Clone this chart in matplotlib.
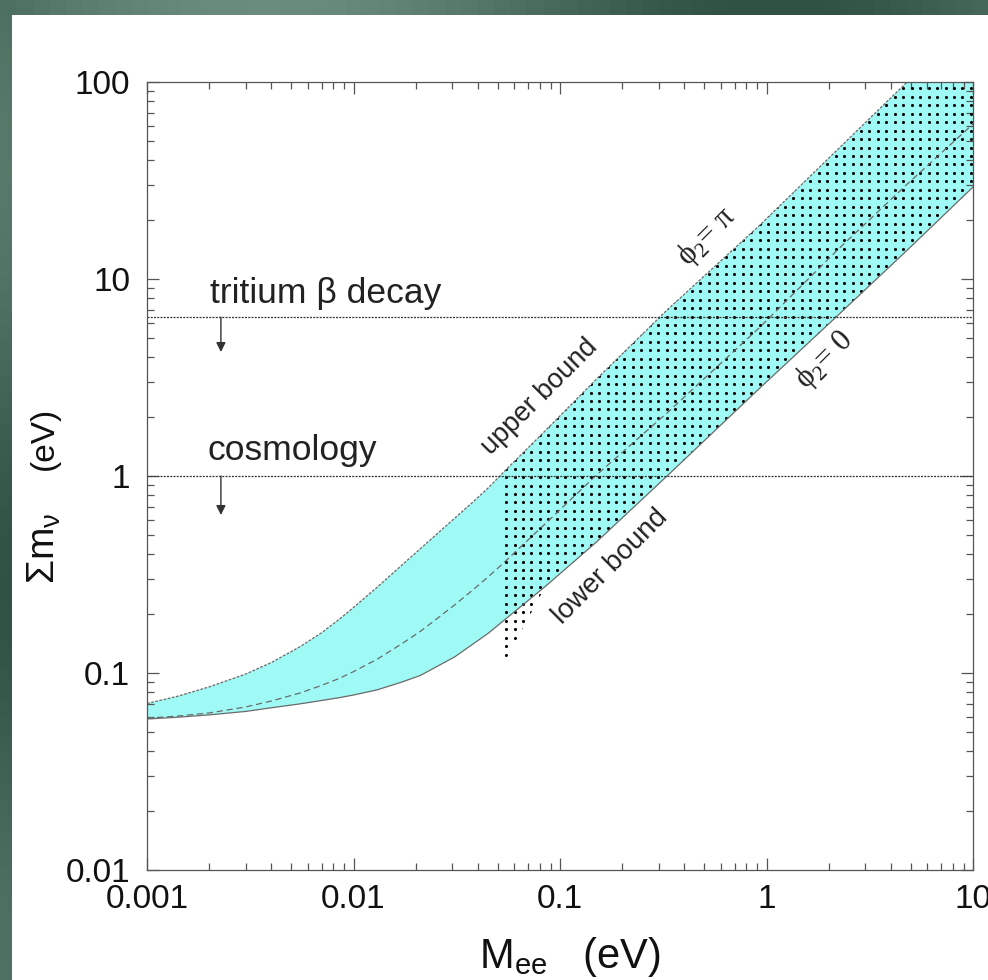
import numpy as np
import matplotlib
matplotlib.use("Agg")
import matplotlib.pyplot as plt
from matplotlib.ticker import FixedLocator, FixedFormatter, LogLocator, NullFormatter
from matplotlib.patches import Rectangle

plt.rcParams["font.family"] = ["Liberation Sans", "DejaVu Sans"]
plt.rcParams["mathtext.fontset"] = "custom"
plt.rcParams["mathtext.rm"] = "Liberation Sans"
plt.rcParams["mathtext.it"] = "Liberation Sans:italic"

# Effective Majorana mass M_ee (eV) and the summed neutrino mass bounds (eV)
m_ee = [0.001, 0.0014, 0.002, 0.003, 0.004, 0.0055, 0.007, 0.0085, 0.01,
        0.013, 0.017, 0.021, 0.026, 0.031, 0.038, 0.045, 0.053,
        0.085, 0.15, 0.33, 0.93, 2.2, 4.8, 10]
sum_upper = [0.070, 0.0761, 0.085, 0.0987, 0.113, 0.1359, 0.160, 0.1868, 0.215,
             0.2722, 0.350, 0.426, 0.520, 0.6125, 0.740, 0.872, 1.04,
             1.70, 3.10, 6.96, 18.8, 45.2, 100, 100]            # phi2 = pi
sum_middle = [0.059, 0.0604, 0.0627, 0.0672, 0.0721, 0.0791, 0.0865, 0.0937, 0.1016,
              0.1174, 0.140, 0.1623, 0.1925, 0.2223, 0.265, 0.3084, 0.360,
              0.573, 1.01, 2.09, 5.70, 14.0, 30.3, 61.2]
sum_lower = [0.0584, 0.0596, 0.0613, 0.0638, 0.0666, 0.0697, 0.0725, 0.0749, 0.0773,
             0.0821, 0.0897, 0.0970, 0.1094, 0.1210, 0.1406, 0.1593, 0.1835,
             0.2754, 0.4618, 1.0, 2.80, 6.49, 14.0, 29.3]        # phi2 = 0

# Dotted region (M_ee above ~0.05 eV)
dotted_m_ee = [0.053, 0.085, 0.15, 0.33, 0.93, 2.2, 4.8, 10]
dotted_floor = [0.11, 0.2754, 0.4618, 1.0, 2.80, 6.49, 14.0, 29.3]
dotted_ceiling = [1.04, 1.70, 3.10, 6.96, 18.8, 45.2, 100, 100]

# Experimental limits on the summed mass
tritium_limit = 6.4
cosmology_limit = 1.0

x_ticks = [0.001, 0.01, 0.1, 1, 10]
x_tick_labels = ["0.001", "0.01", "0.1", "1", "10"]
y_ticks = [0.01, 0.1, 1, 10, 100]
y_tick_labels = ["0.01", "0.1", "1", "10", "100"]

W, H = 988, 980
fig = plt.figure(figsize=(W / 100, H / 100), dpi=100)

# dark green frame with a white panel
bg = fig.add_axes([0, 0, 1, 1], zorder=-10)
gy, gx = np.mgrid[0:1:60j, 0:1:60j]
shade = 0.5 + 0.25 * np.sin(6 * gx + 3 * gy) * np.cos(5 * gy)
frame_cmap = matplotlib.colors.LinearSegmentedColormap.from_list(
    "frame", ["#2f5244", "#4d7062", "#6a8c7d"])
bg.imshow(shade, cmap=frame_cmap, aspect="auto", extent=[0, 1, 0, 1])
bg.add_patch(Rectangle((12 / W, 0), 1, 1 - 15 / H, facecolor="white",
                       edgecolor="none"))
bg.set_xlim(0, 1)
bg.set_ylim(0, 1)
bg.axis("off")

ax = fig.add_axes([147 / W, 1 - 870 / H, 826 / W, 788 / H])
ax.set_xscale("log")
ax.set_yscale("log")
ax.set_xlim(0.001, 10)
ax.set_ylim(0.01, 100)
ax.set_facecolor("white")

band_color = "#9ffaf5"
line_color = "#6a6a6a"

ax.fill_between(m_ee, sum_lower, sum_upper, facecolor=band_color,
                edgecolor="none", zorder=1)

# dot texture clipped to the dotted region
pos = ax.get_position()
ax_w = pos.width * W
ax_h = pos.height * H
step = 8.45
gxs = np.arange(step * 0.5, ax_w, step) / ax_w
gys = np.arange(step * 0.5, ax_h, step) / ax_h
GX, GY = np.meshgrid(gxs, gys)
dots = ax.scatter(GX.ravel(), GY.ravel(), s=5.0, c="black", linewidths=0,
                  transform=ax.transAxes, zorder=2)
region = ax.fill_between(dotted_m_ee, dotted_floor, dotted_ceiling,
                         facecolor="none", edgecolor="none")
dots.set_clip_path(region.get_paths()[0], region.get_transform())

# bounds and the intermediate curve
ax.plot(m_ee[:-1], sum_upper[:-1], color=line_color, lw=0.9,
        dashes=(2.2, 1.2), zorder=3)
ax.plot(m_ee, sum_middle, color=line_color, lw=0.9, dashes=(5, 3), zorder=3)
ax.plot(m_ee, sum_lower, color=line_color, lw=0.9, zorder=3)

# limits
for lim in (tritium_limit, cosmology_limit):
    ax.axhline(lim, color="#333333", lw=0.9, dashes=(1.6, 1.0), zorder=3)

arrow_x = 0.00228
ax.annotate("", xy=(arrow_x, 4.26), xytext=(arrow_x, tritium_limit),
            arrowprops=dict(arrowstyle="-|>", color="#333333", lw=1.0,
                            mutation_scale=14, shrinkA=0, shrinkB=0))
ax.annotate("", xy=(arrow_x, 0.634), xytext=(arrow_x, cosmology_limit),
            arrowprops=dict(arrowstyle="-|>", color="#333333", lw=1.0,
                            mutation_scale=14, shrinkA=0, shrinkB=0))

ax.text(0.00202, 7.55, "tritium β decay", fontsize=25.5, color="#222222",
        ha="left", va="baseline")
ax.text(0.00197, 1.205, "cosmology", fontsize=25.5, color="#222222",
        ha="left", va="baseline")

ax.text(0.080, 2.52, "upper bound", fontsize=19.5, color="#222222",
        rotation=45, rotation_mode="anchor", ha="center", va="center")
ax.text(0.1746, 0.345, "lower bound", fontsize=20, color="#222222",
        rotation=45, rotation_mode="anchor", ha="center", va="center")

serif = ["Liberation Serif", "DejaVu Serif"]
ax.text(0.515, 16.3, r"ϕ$_\mathregular{2}$= π", fontsize=22, family=serif,
        color="#222222", rotation=45, rotation_mode="anchor",
        ha="center", va="center")
ax.text(1.92, 3.88, r"ϕ$_\mathregular{2}$= 0", fontsize=22, family=serif,
        color="#222222", rotation=45, rotation_mode="anchor",
        ha="center", va="center")

# axes styling
for side in ax.spines.values():
    side.set_color("#555555")
    side.set_linewidth(0.9)
    side.set_zorder(4)

ax.xaxis.set_major_locator(FixedLocator(x_ticks))
ax.xaxis.set_major_formatter(FixedFormatter(x_tick_labels))
ax.yaxis.set_major_locator(FixedLocator(y_ticks))
ax.yaxis.set_major_formatter(FixedFormatter(y_tick_labels))
ax.xaxis.set_minor_locator(LogLocator(base=10, subs=np.arange(2, 10), numticks=20))
ax.yaxis.set_minor_locator(LogLocator(base=10, subs=np.arange(2, 10), numticks=20))
ax.xaxis.set_minor_formatter(NullFormatter())
ax.yaxis.set_minor_formatter(NullFormatter())

ax.tick_params(which="both", direction="in", top=True, right=True,
               color="#555555", width=0.9)
ax.tick_params(which="major", length=8.6, labelsize=24, labelcolor="#111111")
ax.tick_params(which="minor", length=4.8)
ax.tick_params(axis="x", which="major", pad=10)
ax.tick_params(axis="y", which="major", pad=12)

ax.text(0.512, -0.110, r"M$_\mathregular{ee}$   (eV)", transform=ax.transAxes,
        fontsize=30, color="#111111", ha="center", va="center")
# vertical axis title: symbol part and unit part
ax.text(-0.1247, 1 - (548 - 82) / 788, r"Σm$_\mathregular{ν}$",
        transform=ax.transAxes, fontsize=28, color="#111111", rotation=90,
        ha="center", va="center")
ax.text(-0.1247, 1 - (438 - 82) / 788, "(eV)",
        transform=ax.transAxes, fontsize=24, color="#111111", rotation=90,
        ha="center", va="center")

fig.savefig("out.png", dpi=100)
